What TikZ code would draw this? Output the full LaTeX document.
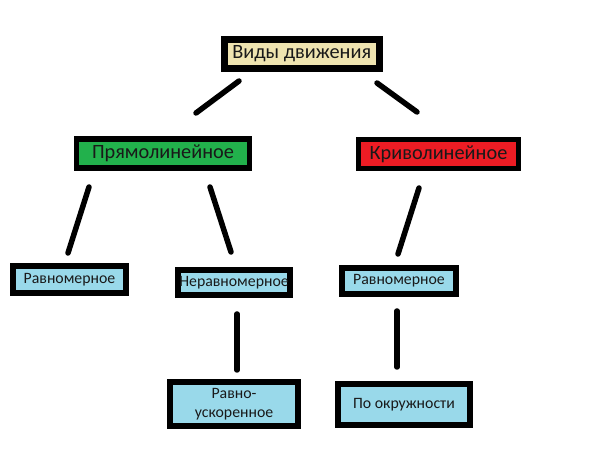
\documentclass[tikz,border=0pt]{standalone}
\usepackage{fontspec}
\setmainfont{Carlito}
\definecolor{tanfill}{HTML}{EFE4B0}
\definecolor{greenfill}{HTML}{22B14C}
\definecolor{redfill}{HTML}{ED1C24}
\definecolor{bluefill}{HTML}{99D9EA}
\tikzset{
  box/.style={draw=black, line width=6pt, inner sep=0pt, align=center, text=black!90},
  big/.style={box, font=\fontsize{20.3}{22}\selectfont},
  small/.style={box, font=\fontsize{15.8}{19}\selectfont},
  conn/.style={line width=5.5pt, line cap=round},
}
\begin{document}
\begin{tikzpicture}[x=1pt,y=-1pt]
\useasboundingbox[fill=white] (0,0) rectangle (590,462);
\node[big, fill=tanfill, line width=7pt, minimum width=155, minimum height=29] (top) at (301.7,54) {Виды движения};
\node[big, fill=greenfill, line width=5.5pt, minimum width=173, minimum height=29] (pr) at (163,153.7) {Прямолинейное};
\node[big, fill=redfill, line width=5.5pt, minimum width=160, minimum height=29] (kr) at (438.5,154) {Криволинейное};
\node[small, fill=bluefill, minimum width=113, minimum height=27] (r1) at (69.5,279.5) {Равномерное};
\node[small, fill=bluefill, minimum width=112, minimum height=25] (nr) at (234,282.5) {Неравномерное};
\node[small, fill=bluefill, minimum width=114, minimum height=26] (r2) at (399,281) {Равномерное};
\node[small, fill=bluefill, minimum width=128, minimum height=44] (ru) at (234,404) {Равно-\\ускоренное};
\node[small, fill=bluefill, minimum width=132, minimum height=41] (po) at (404,404.5) {По окружности};
\coordinate (a1) at (239,81); \coordinate (a2) at (196,113);
\coordinate (b1) at (377,83); \coordinate (b2) at (417,112);
\coordinate (c1) at (89,187); \coordinate (c2) at (68,253);
\coordinate (d1) at (210,187); \coordinate (d2) at (231,252);
\coordinate (e1) at (419,188); \coordinate (e2) at (398,254);
\coordinate (f1) at (237,314); \coordinate (f2) at (237,370);
\coordinate (g1) at (397,311); \coordinate (g2) at (397,367);
\draw[conn] (a1) -- (a2);
\draw[conn] (b1) -- (b2);
\draw[conn] (c1) -- (c2);
\draw[conn] (d1) -- (d2);
\draw[conn] (e1) -- (e2);
\draw[conn] (f1) -- (f2);
\draw[conn] (g1) -- (g2);
\end{tikzpicture}
\end{document}
